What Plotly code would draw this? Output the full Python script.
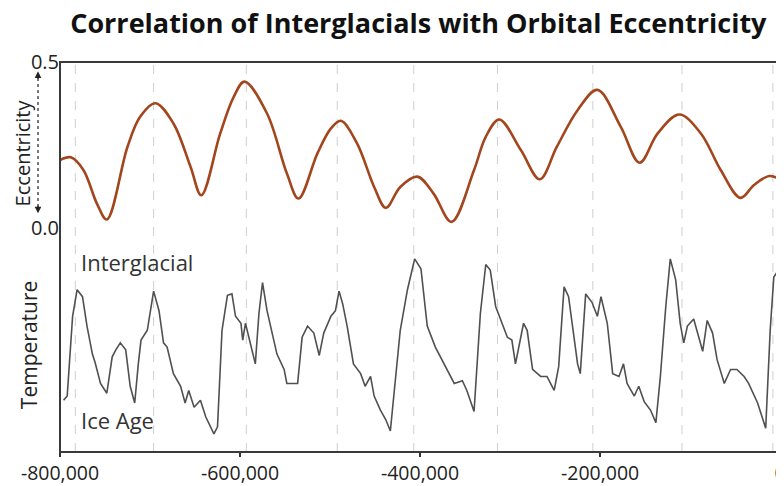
import plotly.graph_objects as go

# ---------------- data ----------------
ecc_years = [-800000, -788000, -774000, -759000, -748000, -725000, -711000, -694000,
             -674000, -655000, -643000, -622000, -607000, -595000, -570000, -548000,
             -535000, -514000, -499000, -488000, -470000, -451000, -438000, -422000,
             -403000, -385000, -365000, -340000, -327000, -312000, -288000, -267000,
             -248000, -225000, -203000, -177000, -156000, -136000, -112000, -88000,
             -66000, -44000, -29000, -12000, 1000]
ecc_values = [0.205, 0.213, 0.175, 0.074, 0.026, 0.245, 0.335, 0.376,
              0.315, 0.185, 0.099, 0.285, 0.395, 0.441, 0.345, 0.165,
              0.089, 0.225, 0.300, 0.323, 0.255, 0.124, 0.061, 0.124,
              0.155, 0.104, 0.019, 0.175, 0.275, 0.327, 0.235, 0.147,
              0.245, 0.355, 0.416, 0.305, 0.197, 0.285, 0.342, 0.285,
              0.175, 0.091, 0.130, 0.157, 0.145]

temp_years = [-796000, -792000, -786000, -781000, -775000, -770000, -764000, -761000,
              -755000, -748000, -742000, -738000, -733000, -727000, -722000, -717000,
              -713000, -710000, -703000, -696000, -690000, -685000, -681000, -674000,
              -666000, -661000, -657000, -651000, -644000, -638000, -629000, -625000,
              -620000, -614000, -609000, -605000, -599000, -597000, -594000, -590000,
              -583000, -579000, -575000, -570000, -566000, -559000, -551000, -548000,
              -536000, -531000, -525000, -518000, -512000, -507000, -499000, -494000,
              -490000, -486000, -481000, -474000, -466000, -461000, -455000, -451000,
              -444000, -438000, -433000, -427000, -422000, -414000, -406000, -399000,
              -392000, -383000, -372000, -362000, -353000, -348000, -340000, -333000,
              -327000, -322000, -316000, -312000, -303000, -298000, -294000, -285000,
              -281000, -275000, -266000, -259000, -251000, -246000, -240000, -235000,
              -229000, -225000, -222000, -216000, -209000, -203000, -199000, -192000,
              -186000, -179000, -174000, -170000, -162000, -157000, -151000, -144000,
              -138000, -133000, -127000, -122000, -116000, -111000, -107000, -103000,
              -96000, -90000, -86000, -81000, -75000, -70000, -62000, -55000,
              -48000, -40000, -35000, -25000, -16000, -11000, -7000, 0]
temp_values = [-6.3, -6.0, -0.3, 1.6, 1.1, -1.0, -3.0, -3.6,
               -5.1, -5.8, -3.2, -2.7, -2.2, -2.7, -5.3, -6.5,
               -3.7, -2.0, -1.3, 1.5, 0.1, -2.2, -2.5, -4.4,
               -5.3, -6.5, -5.6, -6.8, -6.3, -7.5, -8.7, -8.2,
               -1.3, 1.2, 1.3, -0.3, -0.8, -2.0, -0.8, -1.8,
               -3.7, -0.1, 2.1, 0.1, -1.0, -3.0, -4.1, -5.1,
               -5.1, -1.8, -1.0, -1.5, -3.1, -1.5, -0.3, 0.1,
               1.5, 0.6, -1.0, -3.7, -4.4, -5.3, -4.6, -6.0,
               -7.0, -7.7, -8.5, -4.4, -1.3, 1.6, 3.8, 3.1,
               -1.0, -2.5, -3.9, -5.1, -4.9, -5.6, -7.1, -0.1,
               3.4, 3.0, 0.4, -0.3, -1.8, -2.0, -3.7, -0.8,
               -1.3, -4.1, -4.6, -4.6, -5.6, -3.9, 1.8, 1.1,
               -2.0, -3.7, -4.4, 1.3, 0.7, -0.3, 1.1, -0.8,
               -4.4, -4.6, -3.7, -5.1, -6.0, -5.3, -6.4, -7.0,
               -7.9, -4.6, 0.4, 3.8, 2.3, -0.8, -2.2, -1.0,
               -0.5, -1.8, -2.8, -0.6, -1.5, -3.4, -5.1, -4.1,
               -4.1, -4.6, -5.1, -6.5, -8.3, -1.3, 2.5, 3.2]

grid_years = [-783000, -696000, -593000, -492000, -407000, -314000, -208000, -109000, -8000]

x_tick_vals = [-800000, -600000, -400000, -200000, 0]
x_tick_text = ["-800,000", "-600,000", "-400,000", "-200,000", "0"]
ecc_tick_vals = [0.0, 0.5]
ecc_tick_text = ["0.0", "0.5"]

TITLE = "Correlation of Interglacials with Orbital Eccentricity"
FONT = "Open Sans"

# ---------------- figure ----------------
fig = go.Figure()

fig.add_trace(go.Scatter(
    x=ecc_years, y=ecc_values, mode="lines", yaxis="y2",
    line=dict(color="#a3461d", width=2.6, shape="spline", smoothing=1.0),
    hoverinfo="skip", showlegend=False))

fig.add_trace(go.Scatter(
    x=temp_years, y=temp_values, mode="lines", yaxis="y",
    line=dict(color="#505050", width=1.6),
    hoverinfo="skip", showlegend=False))

shapes = []
for gx in grid_years:
    shapes.append(dict(type="line", xref="x", yref="paper", x0=gx, x1=gx, y0=0, y1=1,
                       line=dict(color="#cfcfcf", width=1, dash="dash"), layer="below"))
# plot frame
shapes.append(dict(type="rect", xref="paper", yref="paper", x0=0, x1=1, y0=0, y1=1,
                   line=dict(color="#3a3a3a", width=2), layer="above"))
# dotted shaft of the eccentricity arrow
shapes.append(dict(type="line", xref="paper", yref="paper", x0=-0.0305, x1=-0.0305,
                   y0=0.628, y1=0.962, line=dict(color="#222", width=1.2, dash="dot")))

annotations = [
    dict(text="Eccentricity", xref="paper", yref="paper", x=-0.0520, y=0.767,
         textangle=-90, showarrow=False, xanchor="center", yanchor="middle",
         font=dict(family=FONT, size=20, color="#222")),
    dict(text="Temperature", xref="paper", yref="paper", x=-0.0430, y=0.274,
         textangle=-90, showarrow=False, xanchor="center", yanchor="middle",
         font=dict(family=FONT, size=21, color="#222")),
    dict(text="Interglacial", xref="paper", yref="paper", x=0.026, y=0.487,
         showarrow=False, xanchor="left", yanchor="middle",
         font=dict(family=FONT, size=22, color="#333")),
    dict(text="Ice Age", xref="paper", yref="paper", x=0.026, y=0.082,
         showarrow=False, xanchor="left", yanchor="middle",
         font=dict(family=FONT, size=22, color="#333")),
    dict(text="", xref="paper", yref="paper", x=-0.0305, y=0.976, showarrow=True,
         ax=0, ay=9, arrowhead=2, arrowsize=1.1, arrowwidth=1.2, arrowcolor="#222"),
    dict(text="", xref="paper", yref="paper", x=-0.0305, y=0.612, showarrow=True,
         ax=0, ay=-9, arrowhead=2, arrowsize=1.1, arrowwidth=1.2, arrowcolor="#222"),
]

# the page places the figure 8px in from the top-left corner, so the figure is
# sized 776x478 to fill the 784x486 window
fig.update_layout(
    width=776, height=478,
    margin=dict(l=52, r=3, t=54, b=34, autoexpand=False),
    paper_bgcolor="white", plot_bgcolor="white",
    font=dict(family=FONT, size=20, color="#222"),
    title=dict(text="<b>" + TITLE + "</b>", x=0.497, xref="paper", xanchor="center",
               y=0.967, yref="container", yanchor="middle",
               font=dict(family=FONT, size=27, color="#111")),
    xaxis=dict(range=[-800000, 1000], domain=[0, 1], showgrid=False, zeroline=False,
               showline=False, tickvals=x_tick_vals, ticktext=x_tick_text,
               ticks="outside", ticklen=4, tickwidth=1.5, tickcolor="#333",
               automargin=False, ticklabeloverflow="allow",
               tickfont=dict(family=FONT, size=19.5, color="#222")),
    yaxis=dict(range=[-10, 6], domain=[0, 0.574], showgrid=False, zeroline=False,
               showline=False, showticklabels=False, ticks="", automargin=False),
    yaxis2=dict(range=[0, 0.5], domain=[0.574, 1], showgrid=False, zeroline=False,
                showline=False, tickvals=ecc_tick_vals, ticktext=ecc_tick_text, ticks="",
                automargin=False,
                tickfont=dict(family=FONT, size=20, color="#222"), anchor="x"),
    shapes=shapes,
    annotations=annotations,
)

fig.write_html("out.html")
